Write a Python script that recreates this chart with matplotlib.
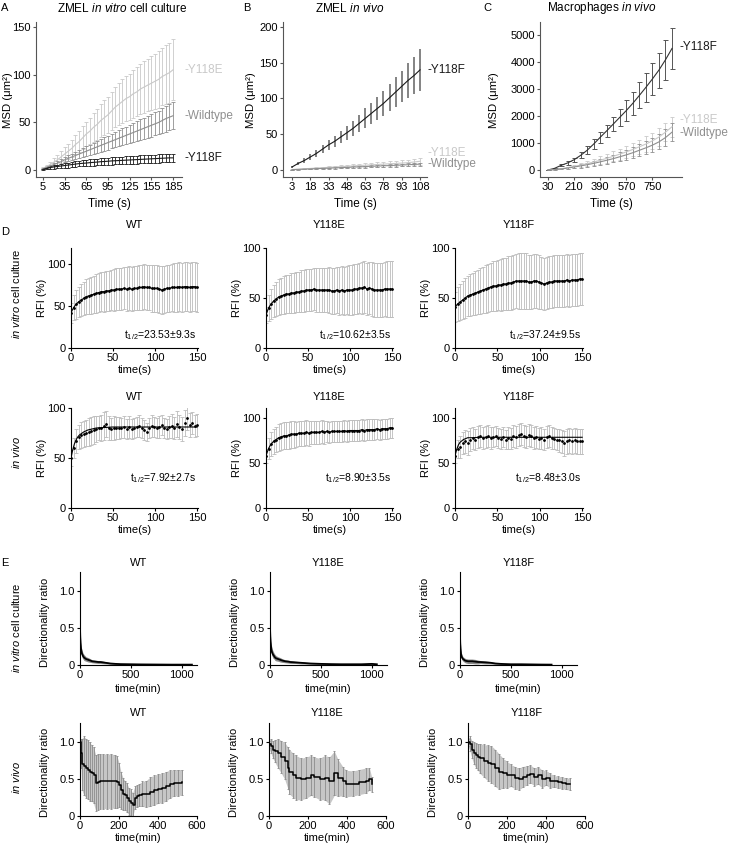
import numpy as np
import matplotlib
matplotlib.use('Agg')
import matplotlib.pyplot as plt
from matplotlib.transforms import blended_transform_factory as btf

plt.rcParams['font.family'] = ['Liberation Sans', 'DejaVu Sans']
plt.rcParams['mathtext.fontset'] = 'custom'
plt.rcParams['mathtext.rm'] = 'Liberation Sans'
plt.rcParams['mathtext.it'] = 'Liberation Sans:italic'
plt.rcParams['mathtext.bf'] = 'Liberation Sans:bold'

# ---------------- data ----------------
# Panel A: ZMEL in vitro MSD
tA = np.arange(5, 186, 5)
A_Y118E_mean = [2, 4, 6, 8.5, 11, 14, 17, 20, 23, 27, 30, 34, 38, 41, 45, 48, 52, 55, 58, 62,
                66, 69, 72, 75, 77, 80, 82, 85, 87, 89, 91, 93, 95, 98, 100, 102, 105]
A_Y118E_err = [1, 2, 3, 4, 5, 6, 7, 8, 9, 10, 11, 12, 13, 14, 15, 16, 17, 18, 19, 20, 21, 22, 23,
               23.5, 24, 25, 25.5, 26, 27, 27.5, 28, 29, 29.5, 30, 31, 31.5, 32]
A_WT_mean = [1.5, 3, 4.5, 6, 7.5, 9, 11, 12.5, 14, 15.5, 17, 18.5, 20, 21.5, 23, 24.5, 26, 27.5, 29, 30.5,
             32, 33.5, 35, 36.5, 38, 39.5, 41, 42.5, 44, 45.5, 47, 48.5, 50, 52, 54, 55.5, 57]
A_WT_err = [0.5, 1, 1.2, 1.5, 2, 2.3, 2.8, 3.1, 3.5, 3.9, 4.3, 4.6, 5, 5.4, 5.8, 6.1, 6.5, 6.9, 7.3, 7.6,
            8, 8.4, 8.8, 9.1, 9.5, 9.9, 10.3, 10.6, 11, 11.4, 11.8, 12.1, 12.5, 13, 13.5, 13.9, 14.3]
A_Y118F_mean = [1, 2, 3, 3.5, 4, 4.5, 5, 5.5, 6, 6.5, 7, 7.3, 7.6, 8, 8.3, 8.6, 9, 9.2, 9.5, 9.8,
                10, 10.2, 10.4, 10.6, 10.8, 11, 11.2, 11.4, 11.6, 11.8, 12, 12.2, 12.4, 12.6, 12.8, 13, 13]
A_Y118F_err = [0.5, 1, 1.5, 1.8, 2, 2.2, 2.4, 2.6, 2.8, 3, 3, 3.2, 3.2, 3.4, 3.4, 3.5, 3.6, 3.6, 3.7, 3.8,
               3.8, 3.9, 3.9, 4, 4, 4, 4.1, 4.1, 4.2, 4.2, 4.2, 4.3, 4.3, 4.3, 4.4, 4.4, 4.4]
A_ticks = [5, 35, 65, 95, 125, 155, 185]

# Panel B: ZMEL in vivo MSD
tB = np.arange(3, 109, 5)
B_Y118F_mean = [4, 9, 13, 18, 23, 29, 35, 40, 46, 52, 58, 65, 72, 79, 86, 93, 101, 109, 117, 125, 132, 140]
B_Y118F_err = [1, 2, 3, 4, 5, 6, 7, 8, 9, 10, 11, 12, 14, 15, 16, 18, 19, 21, 22, 24, 26, 29]
B_Y118E_mean = [0.5, 1, 1.5, 2, 2.5, 3, 3.5, 4, 4.5, 5, 5.5, 6, 6.5, 7, 7.5, 8, 8.5, 9, 9.5, 10, 11, 12]
B_Y118E_err = [0.3, 0.5, 0.7, 0.9, 1.1, 1.3, 1.5, 1.7, 1.9, 2.1, 2.3, 2.5, 2.7, 2.9, 3.1, 3.3, 3.5, 3.7, 3.9, 4.1, 4.3, 4.5]
B_WT_mean = [0.3, 0.6, 1, 1.3, 1.7, 2, 2.4, 2.8, 3.1, 3.5, 3.9, 4.2, 4.6, 5, 5.3, 5.7, 6, 6.4, 6.8, 7.2, 7.6, 8]
B_WT_err = [0.2, 0.3, 0.4, 0.5, 0.6, 0.7, 0.8, 0.9, 1, 1.1, 1.2, 1.3, 1.4, 1.5, 1.6, 1.7, 1.8, 1.9, 2, 2.1, 2.2, 2.3]
B_ticks = [3, 18, 33, 48, 63, 78, 93, 108]

# Panel C: Macrophages in vivo MSD
tC = np.arange(30, 886, 45)
C_Y118F_mean = [0, 60, 170, 260, 380, 540, 730, 960, 1210, 1450, 1700, 1950, 2200, 2470, 2760, 3060, 3370, 3700, 4080, 4500]
C_Y118F_err = [0, 15, 40, 60, 80, 110, 140, 170, 200, 230, 270, 320, 380, 430, 480, 530, 600, 650, 750, 750]
C_Y118E_mean = [0, 15, 45, 85, 130, 180, 235, 295, 360, 430, 505, 585, 670, 760, 860, 960, 1080, 1220, 1400, 1600]
C_Y118E_err = [0, 10, 25, 40, 60, 80, 100, 120, 140, 160, 180, 200, 220, 240, 260, 280, 300, 320, 340, 370]
C_WT_mean = [0, 12, 38, 70, 110, 150, 195, 245, 300, 360, 420, 490, 560, 640, 730, 820, 920, 1040, 1200, 1400]
C_WT_err = [0, 8, 20, 35, 50, 65, 80, 95, 110, 125, 140, 160, 180, 200, 220, 240, 260, 280, 300, 330]
C_ticks = [30, 210, 390, 570, 750]

# Panel D: FRAP (RFI %)
tD = np.arange(0, 151, 3)
D1_WT_mean = [42, 48, 52, 55, 57, 59, 61, 62, 63, 64, 65, 66, 67, 67, 68, 68, 69, 69, 70, 70,
              70, 71, 70, 71, 70, 71, 71, 72, 72, 73, 72, 72, 71, 71, 71, 70, 69, 70, 71, 71,
              72, 72, 72, 73, 72, 73, 73, 72, 73, 73, 72]
D1_WT_err = [12, 15, 17, 18, 19, 20, 21, 21, 22, 22, 23, 23, 23, 24, 24, 24, 24, 25, 25, 25,
             25, 25, 26, 26, 26, 26, 26, 27, 27, 27, 27, 27, 28, 28, 28, 28, 28, 28, 28, 28,
             28, 29, 29, 29, 29, 29, 29, 29, 29, 29, 29]
D1_E_mean = [33, 40, 44, 47, 49, 51, 52, 53, 54, 54, 55, 55, 56, 56, 57, 57, 58, 58, 58, 59,
             58, 58, 58, 58, 58, 58, 57, 57, 58, 57, 58, 57, 58, 58, 58, 59, 59, 60, 60, 61,
             59, 60, 59, 58, 58, 58, 58, 59, 59, 59, 59]
D1_E_err = [8, 13, 15, 16, 17, 18, 18, 19, 19, 19, 20, 20, 20, 20, 21, 21, 21, 21, 21, 21,
            22, 22, 22, 22, 22, 23, 23, 23, 23, 24, 24, 24, 24, 25, 25, 25, 25, 25, 26, 26,
            26, 26, 27, 27, 27, 27, 27, 27, 28, 28, 28]
D1_F_mean = [41, 44, 46, 48, 50, 52, 53, 54, 55, 56, 57, 58, 59, 60, 61, 62, 62, 63, 63, 64,
             64, 65, 65, 66, 67, 67, 67, 67, 67, 66, 66, 67, 67, 66, 65, 64, 65, 66, 66, 67,
             67, 67, 67, 67, 68, 67, 68, 68, 68, 69, 69]
D1_F_err = [15, 17, 18, 19, 20, 20, 21, 21, 22, 22, 23, 23, 24, 24, 24, 25, 25, 25, 26, 26,
            26, 27, 27, 27, 27, 28, 28, 28, 28, 27, 27, 27, 27, 27, 26, 26, 26, 26, 26, 26,
            26, 26, 26, 26, 26, 26, 26, 26, 26, 26, 26]
D2_WT_mean = [50, 60, 67, 71, 73, 74, 75, 76, 77, 78, 79, 80, 80, 82, 84, 80, 79, 80, 80, 80,
              80, 81, 79, 81, 79, 80, 81, 82, 80, 78, 76, 80, 82, 81, 80, 81, 83, 80, 79, 81,
              82, 80, 84, 81, 79, 85, 90, 83, 85, 82, 83]
D2_WT_err = [8, 10, 12, 12, 13, 13, 13, 14, 14, 14, 13, 12, 13, 14, 13, 12, 11, 12, 11, 11,
             10, 11, 10, 11, 10, 10, 10, 11, 10, 10, 9, 10, 11, 10, 10, 11, 10, 10, 10, 11,
             12, 11, 13, 12, 12, 13, 12, 12, 11, 11, 11]
D2_WT_fit_t = [0, 2, 4, 6, 8, 10, 15, 20, 25, 30, 40, 50, 60, 80, 100, 125, 150]
D2_WT_fit = [50, 58, 64, 68, 71, 73, 76, 78, 79, 80, 80.5, 81, 81, 81, 81, 81, 81]
D2_E_mean = [58, 66, 71, 74, 76, 78, 79, 80, 80, 81, 82, 82, 82, 83, 83, 83, 84, 83, 84, 84,
             84, 84, 85, 84, 85, 84, 85, 85, 85, 85, 85, 86, 85, 86, 86, 86, 86, 86, 87, 86,
             87, 87, 87, 87, 88, 87, 88, 88, 88, 89, 89]
D2_E_err = [8, 12, 13, 14, 14, 15, 15, 15, 15, 15, 15, 15, 14, 14, 14, 14, 14, 14, 13, 13,
            13, 13, 13, 13, 12, 12, 12, 12, 12, 12, 12, 12, 12, 12, 12, 12, 12, 12, 12, 12,
            12, 12, 12, 12, 11, 11, 11, 11, 11, 11, 11]
D2_F_mean = [58, 65, 68, 72, 74, 72, 76, 78, 76, 79, 80, 78, 79, 80, 78, 79, 80, 78, 77, 79,
             76, 78, 77, 80, 79, 81, 82, 80, 79, 81, 80, 78, 79, 77, 78, 76, 79, 80, 78, 77,
             76, 75, 74, 72, 74, 75, 74, 75, 74, 74, 74]
D2_F_err = [8, 10, 12, 12, 13, 13, 13, 12, 12, 12, 12, 12, 12, 12, 12, 11, 11, 11, 11, 11,
            11, 12, 12, 12, 12, 12, 12, 12, 12, 12, 12, 12, 12, 12, 12, 12, 12, 12, 12, 12,
            12, 13, 13, 14, 14, 14, 14, 14, 14, 14, 14]
D2_F_fit_t = [0, 2, 4, 6, 10, 15, 20, 30, 50, 100, 150]
D2_F_fit = [58, 65, 70, 73, 76, 78, 78, 78.5, 78.5, 78.5, 78.5]
D_half = {"1WT": "23.53±9.3s", "1E": "10.62±3.5s", "1F": "37.24±9.5s",
          "2WT": "7.92±2.7s", "2E": "8.90±3.5s", "2F": "8.48±3.0s"}

# Panel E: directionality ratio
E1_WT_t = [0, 2, 5, 10, 15, 20, 30, 40, 50, 60, 80, 100, 120, 150, 180, 200, 250, 300, 350, 400,
           500, 600, 700, 800, 900, 1000, 1100]
E1_WT_mean = [0.5, 0.4, 0.3, 0.22, 0.18, 0.15, 0.12, 0.1, 0.09, 0.08, 0.07, 0.06, 0.05, 0.045, 0.04,
              0.04, 0.03, 0.02, 0.015, 0.012, 0.01, 0.008, 0.007, 0.006, 0.005, 0.005, 0.005]
E1_WT_err = [0.1, 0.08, 0.07, 0.06, 0.05, 0.05, 0.04, 0.04, 0.035, 0.03, 0.03, 0.025, 0.02, 0.02, 0.02,
             0.02, 0.015, 0.01, 0.01, 0.008, 0.006, 0.005, 0.005, 0.004, 0.004, 0.004, 0.004]
E1_E_t = [0, 2, 5, 10, 15, 20, 30, 40, 50, 60, 80, 100, 120, 150, 180, 200, 250, 300, 350, 400,
          500, 600, 700, 800, 900, 1000, 1050]
E1_E_mean = [0.5, 0.42, 0.32, 0.25, 0.2, 0.17, 0.14, 0.12, 0.1, 0.09, 0.08, 0.07, 0.06, 0.05, 0.045,
             0.04, 0.035, 0.03, 0.025, 0.02, 0.015, 0.012, 0.01, 0.01, 0.01, 0.015, 0.01]
E1_E_err = [0.1, 0.08, 0.07, 0.06, 0.06, 0.05, 0.05, 0.04, 0.04, 0.035, 0.03, 0.03, 0.025, 0.02, 0.02,
            0.02, 0.015, 0.015, 0.012, 0.01, 0.01, 0.008, 0.008, 0.008, 0.008, 0.01, 0.008]
E1_F_t = [0, 2, 5, 10, 15, 20, 30, 40, 50, 60, 80, 100, 120, 150, 180, 200, 250, 300, 350, 400,
          500, 600, 700, 800, 900]
E1_F_mean = [0.4, 0.3, 0.22, 0.15, 0.12, 0.1, 0.08, 0.07, 0.06, 0.055, 0.05, 0.05, 0.05, 0.045, 0.04,
             0.04, 0.035, 0.03, 0.02, 0.015, 0.01, 0.01, 0.008, 0.006, 0.005]
E1_F_err = [0.1, 0.08, 0.06, 0.05, 0.04, 0.035, 0.03, 0.03, 0.03, 0.03, 0.03, 0.03, 0.03, 0.03, 0.025,
            0.02, 0.02, 0.015, 0.01, 0.008, 0.005, 0.005, 0.004, 0.004, 0.004]
E2_WT_t = [0, 5, 10, 20, 30, 40, 50, 60, 70, 80, 90, 100, 120, 140, 160, 180, 190, 200, 210, 220,
           230, 240, 250, 260, 270, 280, 290, 300, 320, 340, 360, 380, 400, 420, 440, 460, 480, 500, 525]
E2_WT_mean = [1.0, 0.85, 0.7, 0.68, 0.65, 0.63, 0.6, 0.58, 0.55, 0.45, 0.46, 0.47, 0.47, 0.47, 0.47,
              0.47, 0.46, 0.42, 0.35, 0.3, 0.28, 0.25, 0.2, 0.18, 0.15, 0.25, 0.27, 0.28, 0.3, 0.3,
              0.33, 0.35, 0.37, 0.38, 0.4, 0.43, 0.45, 0.45, 0.46]
E2_WT_err = [0.05, 0.2, 0.35, 0.4, 0.4, 0.4, 0.4, 0.38, 0.38, 0.38, 0.38, 0.37, 0.37, 0.37, 0.37,
             0.36, 0.35, 0.3, 0.25, 0.22, 0.2, 0.2, 0.18, 0.18, 0.16, 0.15, 0.15, 0.15, 0.17, 0.18,
             0.2, 0.2, 0.2, 0.2, 0.2, 0.19, 0.18, 0.18, 0.17]
E2_E_t = [0, 10, 20, 30, 46, 63, 80, 97, 105, 123, 140, 165, 190, 216, 233, 260, 285, 310, 335, 353,
          378, 395, 430, 463, 497, 515, 526]
E2_E_mean = [0.97, 0.95, 0.9, 0.88, 0.85, 0.8, 0.75, 0.65, 0.6, 0.55, 0.52, 0.5, 0.52, 0.55, 0.53,
             0.5, 0.52, 0.48, 0.58, 0.52, 0.47, 0.44, 0.44, 0.46, 0.48, 0.5, 0.43]
E2_E_err = [0.05, 0.1, 0.12, 0.15, 0.2, 0.22, 0.25, 0.28, 0.3, 0.3, 0.3, 0.28, 0.28, 0.27, 0.27,
            0.28, 0.3, 0.32, 0.3, 0.25, 0.2, 0.18, 0.17, 0.17, 0.17, 0.15, 0.1]
E2_F_t = [0, 10, 20, 30, 40, 50, 60, 80, 100, 120, 140, 160, 180, 200, 220, 240, 260, 280, 300, 320,
          340, 360, 380, 400, 420, 440, 460, 480, 500, 525]
E2_F_mean = [1.0, 0.98, 0.9, 0.85, 0.82, 0.8, 0.78, 0.75, 0.72, 0.7, 0.65, 0.6, 0.58, 0.56, 0.55,
             0.52, 0.5, 0.53, 0.55, 0.57, 0.53, 0.55, 0.5, 0.52, 0.48, 0.47, 0.46, 0.45, 0.44, 0.43]
E2_F_err = [0.05, 0.1, 0.12, 0.15, 0.17, 0.18, 0.2, 0.22, 0.24, 0.25, 0.25, 0.24, 0.2, 0.18, 0.15,
            0.15, 0.15, 0.14, 0.13, 0.12, 0.12, 0.12, 0.12, 0.1, 0.1, 0.08, 0.08, 0.08, 0.08, 0.08]

# ---------------- figure ----------------
W, H = 730, 848
fig = plt.figure(figsize=(W / 100, H / 100), dpi=100)


def add_ax(l, t, r, b):
    return fig.add_axes([l / W, 1 - b / H, (r - l) / W, (b - t) / H])


def ftext(x, y, s, **kw):
    kw.setdefault('ha', 'center')
    kw.setdefault('va', 'center')
    return fig.text(x / W, 1 - y / H, s, **kw)


def style(ax, color='black', fs=8):
    for s in ['top', 'right']:
        ax.spines[s].set_visible(False)
    for s in ['left', 'bottom']:
        ax.spines[s].set_color(color)
        ax.spines[s].set_linewidth(0.8)
    ax.tick_params(labelsize=fs, length=2.5, width=0.8, color=color, pad=1.2, labelcolor='black')


LIGHT, MID, DARK = '#c9c9c9', '#8f8f8f', '#1a1a1a'
TFS = 8  # tick font size, panels A-C
MSD = 'MSD (μm²)'

# ---- A ----
axA = add_ax(36, 22, 182, 177)
for m, e, c in [(A_Y118E_mean, A_Y118E_err, LIGHT), (A_WT_mean, A_WT_err, MID), (A_Y118F_mean, A_Y118F_err, DARK)]:
    axA.errorbar(tA, m, yerr=e, color=c, lw=0.8, elinewidth=0.6, capsize=1.6, capthick=0.6)
axA.set_xlim(-4.7, 197.5)
axA.set_ylim(-7, 155)
axA.set_xticks(A_ticks)
axA.set_yticks([0, 50, 100, 150])
style(axA, '#555555', TFS)
trA = btf(axA.transAxes, axA.transData)
axA.text(1.02, A_Y118E_mean[-1], '-Y118E', color=LIGHT, transform=trA, fontsize=8.5, va='center')
axA.text(1.02, A_WT_mean[-1], '-Wildtype', color=MID, transform=trA, fontsize=8.5, va='center')
axA.text(1.02, A_Y118F_mean[-1], '-Y118F', color=DARK, transform=trA, fontsize=8.5, va='center')
ftext(122, 8, r'ZMEL $\mathit{in\ vitro}$ cell culture', fontsize=8.5)
ftext(8, 100, MSD, fontsize=8.2, rotation=90)
ftext(109, 204, 'Time (s)', fontsize=8.5)
ftext(5, 8, 'A', fontsize=8)

# ---- B ----
axB = add_ax(283, 22, 427, 177)
axB.errorbar(tB, B_Y118E_mean, yerr=B_Y118E_err, color=LIGHT, lw=0.8, elinewidth=0.6, capsize=1.6, capthick=0.6)
axB.errorbar(tB, B_WT_mean, yerr=B_WT_err, color=MID, lw=0.8, elinewidth=0.6, capsize=1.6, capthick=0.6)
axB.errorbar(tB, B_Y118F_mean, yerr=B_Y118F_err, fmt='none', ecolor='#7a7a7a', elinewidth=1.3)
axB.plot(tB, B_Y118F_mean, color=DARK, lw=0.8)
axB.set_xlim(-4.4, 113.7)
axB.set_ylim(-10, 207)
axB.set_xticks(B_ticks)
axB.set_yticks([0, 50, 100, 150, 200])
style(axB, '#555555', TFS)
trB = btf(axB.transAxes, axB.transData)
axB.text(1.0, B_Y118F_mean[-1], '-Y118F', color=DARK, transform=trB, fontsize=8.5, va='center')
axB.text(1.0, 23, '-Y118E', color=LIGHT, transform=trB, fontsize=8.5, va='center')
axB.text(1.0, 8, '-Wildtype', color=MID, transform=trB, fontsize=8.5, va='center')
ftext(350, 8, r'ZMEL $\mathit{in\ vivo}$', fontsize=8.5)
ftext(251, 100, MSD, fontsize=8.2, rotation=90)
ftext(355, 204, 'Time (s)', fontsize=8.5)
ftext(247, 8, 'B', fontsize=8)

# ---- C ----
axC = add_ax(540, 22, 682, 177)
axC.errorbar(tC, C_Y118E_mean, yerr=C_Y118E_err, color=LIGHT, lw=0.8, elinewidth=0.6, capsize=1.6, capthick=0.6)
axC.errorbar(tC, C_WT_mean, yerr=C_WT_err, color=MID, lw=0.8, elinewidth=0.6, capsize=1.6, capthick=0.6)
axC.errorbar(tC, C_Y118F_mean, yerr=C_Y118F_err, fmt='none', ecolor='#555555', elinewidth=0.7, capsize=1.8, capthick=0.7)
axC.plot(tC, C_Y118F_mean, color='#333333', lw=0.8)
axC.set_xlim(-25, 954)
axC.set_ylim(-260, 5480)
axC.set_xticks(C_ticks)
axC.set_yticks([0, 1000, 2000, 3000, 4000, 5000])
style(axC, '#555555', TFS)
trC = btf(axC.transAxes, axC.transData)
axC.text(0.985, 4550, '-Y118F', color=DARK, transform=trC, fontsize=8.5, va='center')
axC.text(0.985, 1850, '-Y118E', color=LIGHT, transform=trC, fontsize=8.5, va='center')
axC.text(0.985, 1360, '-Wildtype', color=MID, transform=trC, fontsize=8.5, va='center')
ftext(602, 8, r'Macrophages $\mathit{in\ vivo}$', fontsize=8.5)
ftext(494, 100, MSD, fontsize=8.2, rotation=90)
ftext(611, 204, 'Time (s)', fontsize=8.5)
ftext(487, 8, 'C', fontsize=8)

# ---- D ----
ftext(5, 232, 'D', fontsize=8)
D1 = [((71, 248, 198, 348), 'WT', D1_WT_mean, D1_WT_err, 119, D_half['1WT']),
      ((266, 248, 393, 348), 'Y118E', D1_E_mean, D1_E_err, 100, D_half['1E']),
      ((455, 248, 583, 348), 'Y118F', D1_F_mean, D1_F_err, 100, D_half['1F'])]
for (l, t, r, b), title, m, e, ymax, half in D1:
    ax = add_ax(l, t, r, b)
    ax.errorbar(tD, m, yerr=e, fmt='none', ecolor='#bcbcbc', elinewidth=0.6, capsize=1.1, capthick=0.6)
    ax.plot(tD, m, color='black', lw=0.8, marker='o', ms=1.0)
    ax.set_xlim(0, 151)
    ax.set_ylim(0, ymax)
    ax.set_xticks([0, 50, 100, 150])
    ax.set_yticks([0, 50, 100])
    style(ax)
    ax.text(0.99, 0.13, r't$_{1/2}$=' + half, transform=ax.transAxes, ha='right', va='center', fontsize=7.5)
    ftext((l + r) / 2, 225, title, fontsize=8)
    ftext(l - 29, 298, 'RFI (%)', fontsize=8, rotation=90)
    ftext((l + r) / 2, 370, 'time(s)', fontsize=8)

D2 = [((71, 408, 198, 508), 'WT', D2_WT_mean, D2_WT_err, 100, D_half['2WT'], (D2_WT_fit_t, D2_WT_fit)),
      ((266, 408, 393, 508), 'Y118E', D2_E_mean, D2_E_err, 111, D_half['2E'], None),
      ((455, 408, 583, 508), 'Y118F', D2_F_mean, D2_F_err, 111, D_half['2F'], (D2_F_fit_t, D2_F_fit))]
for (l, t, r, b), title, m, e, ymax, half, fit in D2:
    ax = add_ax(l, t, r, b)
    ax.errorbar(tD, m, yerr=e, fmt='none', ecolor='#bcbcbc', elinewidth=0.6, capsize=1.1, capthick=0.6)
    if fit is None:
        ax.plot(tD, m, color='black', lw=0.8, marker='o', ms=1.0)
    else:
        ax.plot(tD, m, 'o', color='black', ms=1.0)
        ax.plot(fit[0], fit[1], color='black', lw=0.8)
    ax.set_xlim(0, 151)
    ax.set_ylim(0, ymax)
    ax.set_xticks([0, 50, 100, 150])
    ax.set_yticks([0, 50, 100])
    style(ax)
    ax.text(0.99, 0.3, r't$_{1/2}$=' + half, transform=ax.transAxes, ha='right', va='center', fontsize=7.5)
    ftext((l + r) / 2, 397, title, fontsize=8)
    ftext(l - 29, 458, 'RFI (%)', fontsize=8, rotation=90)
    ftext((l + r) / 2, 530, 'time(s)', fontsize=8)

ftext(16, 294, r'$\mathit{in\ vitro}$ cell culture', fontsize=8, rotation=90)
ftext(16, 452, r'$\mathit{in\ vivo}$', fontsize=8, rotation=90)

# ---- E ----
ftext(5, 563, 'E', fontsize=8)
E1 = [((80, 572, 197, 665), 'WT', E1_WT_t, E1_WT_mean, E1_WT_err),
      ((270, 572, 387, 665), 'Y118E', E1_E_t, E1_E_mean, E1_E_err),
      ((460, 572, 577, 665), 'Y118F', E1_F_t, E1_F_mean, E1_F_err)]
for (l, t, r, b), title, tt, m, e in E1:
    ax = add_ax(l, t, r, b)
    m = np.array(m); e = np.array(e)
    ax.fill_between(tt, m - e, m + e, color='#8a8a8a', lw=0)
    ax.plot(tt, m, color='black', lw=1.3)
    ax.set_xlim(0, 1150)
    ax.set_ylim(0, 1.25)
    ax.set_xticks([0, 500, 1000])
    ax.set_yticks([0, 0.5, 1.0])
    ax.set_yticklabels(['0', '0.5', '1.0'])
    style(ax)
    ftext((l + r) / 2, 563, title, fontsize=8)
    ftext(l - 35, 622, 'Directionality ratio', fontsize=8, rotation=90)
    ftext((l + r) / 2, 689, 'time(min)', fontsize=8)

E2 = [((80, 723, 197, 816), 'WT', E2_WT_t, E2_WT_mean, E2_WT_err),
      ((269, 723, 386, 816), 'Y118E', E2_E_t, E2_E_mean, E2_E_err),
      ((468, 723, 585, 816), 'Y118F', E2_F_t, E2_F_mean, E2_F_err)]
for (l, t, r, b), title, tt, m, e in E2:
    ax = add_ax(l, t, r, b)
    m = np.array(m); e = np.array(e)
    ax.fill_between(tt, m - e, m + e, color='#c6c6c6', lw=0)
    ax.errorbar(tt, m, yerr=e, fmt='none', ecolor='#8c8c8c', elinewidth=0.6, capsize=1.0, capthick=0.6)
    ax.plot(tt, m, color='black', lw=1.1, drawstyle='steps-post')
    ax.set_xlim(0, 600)
    ax.set_ylim(0, 1.26)
    ax.set_xticks([0, 200, 400, 600])
    ax.set_yticks([0, 0.5, 1.0])
    ax.set_yticklabels(['0', '0.5', '1.0'])
    style(ax)
    ftext((l + r) / 2, 713, title, fontsize=8)
    ftext(l - 35, 772, 'Directionality ratio', fontsize=8, rotation=90)
    ftext((l + r) / 2, 838, 'time(min)', fontsize=8)

ftext(16, 628, r'$\mathit{in\ vitro}$ cell culture', fontsize=8, rotation=90)
ftext(16, 777, r'$\mathit{in\ vivo}$', fontsize=8, rotation=90)

fig.savefig('out.png', dpi=100)
